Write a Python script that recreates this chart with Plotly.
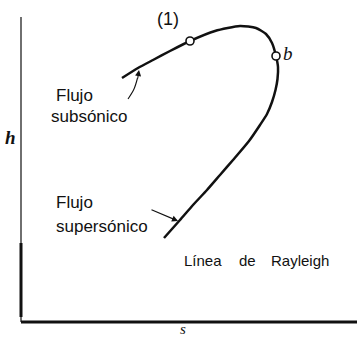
import plotly.graph_objects as go

# Rayleigh line in the h-s plane (arbitrary units, no ticks)
s_curve = [122, 138, 153, 170, 190, 215, 240, 256, 266, 272, 276, 278, 277.5, 275.5, 272, 267, 260, 249, 233, 220, 207, 193, 180, 164]
h_curve = [260, 270, 278, 287, 297, 307, 312, 310, 304, 295, 282, 271, 259, 248, 236, 224, 213, 197, 178, 163, 148, 133, 118, 100]

# marked states: (1) and b
s_pts = [190, 276]
h_pts = [297, 282]

# axis frame
s_axis = [21, 357]
h_axis_top = 321
h_axis_bottom = 16
h_axis_thick = 95

BLACK = "#111111"
SANS = "Liberation Sans, Arial, sans-serif"
SERIF = "Liberation Serif, Times New Roman, serif"

fig = go.Figure()

# vertical (h) axis: thin upper part, heavier lower part
fig.add_trace(go.Scatter(x=[s_axis[0], s_axis[0]], y=[h_axis_top, h_axis_thick],
                         mode="lines", line=dict(color="#333333", width=1.4),
                         hoverinfo="skip"))
fig.add_trace(go.Scatter(x=[s_axis[0], s_axis[0]], y=[h_axis_thick, 21],
                         mode="lines", line=dict(color=BLACK, width=3),
                         hoverinfo="skip"))
fig.add_trace(go.Scatter(x=[s_axis[0], s_axis[0]], y=[21, h_axis_bottom],
                         mode="lines", line=dict(color="#333333", width=1.4),
                         hoverinfo="skip"))
# horizontal (s) axis
fig.add_trace(go.Scatter(x=s_axis, y=[h_axis_bottom, h_axis_bottom],
                         mode="lines", line=dict(color=BLACK, width=3.2),
                         hoverinfo="skip"))

# Rayleigh curve
fig.add_trace(go.Scatter(x=s_curve, y=h_curve, mode="lines",
                         line=dict(color=BLACK, width=2.5, shape="spline", smoothing=0.6),
                         hoverinfo="skip"))

# curved pointer for the subsonic branch
fig.add_trace(go.Scatter(x=[128, 134, 137.5], y=[239, 249, 260], mode="lines",
                         line=dict(color=BLACK, width=1.1, shape="spline"),
                         hoverinfo="skip"))

# state markers
fig.add_trace(go.Scatter(x=s_pts, y=h_pts, mode="markers",
                         marker=dict(size=8, color="white",
                                     line=dict(color=BLACK, width=1.6)),
                         hoverinfo="skip"))

annotations = [
    dict(x=139, y=268, ax=137.5, ay=258, xref="x", yref="y", axref="x", ayref="y",
         showarrow=True, arrowhead=2, arrowsize=1.1, arrowwidth=1.1,
         arrowcolor=BLACK, text=""),
    dict(x=178, y=117, ax=150, ay=129, xref="x", yref="y", axref="x", ayref="y",
         showarrow=True, arrowhead=2, arrowsize=1.1, arrowwidth=1.1,
         arrowcolor=BLACK, text=""),
    dict(x=168, y=319, text="(1)", font=dict(family=SANS, size=18, color=BLACK)),
    dict(x=288, y=285, text="<i>b</i>", font=dict(family=SERIF, size=19, color=BLACK)),
    dict(x=10, y=201, text="<b><i>h</i></b>", font=dict(family=SERIF, size=19, color=BLACK)),
    dict(x=183, y=0, yanchor="bottom", borderpad=0, text="<i>s</i>",
         font=dict(family=SERIF, size=15, color=BLACK)),
    dict(x=54, y=243, text="Flujo", xanchor="left", font=dict(family=SANS, size=17, color=BLACK)),
    dict(x=49, y=222, text="subsónico", xanchor="left", font=dict(family=SANS, size=17, color=BLACK)),
    dict(x=54, y=136, text="Flujo", xanchor="left", font=dict(family=SANS, size=17, color=BLACK)),
    dict(x=54, y=112, text="supersónico", xanchor="left", font=dict(family=SANS, size=17, color=BLACK)),
    dict(x=182, y=78, text="Línea", xanchor="left", font=dict(family=SANS, size=15, color=BLACK)),
    dict(x=237, y=78, text="de", xanchor="left", font=dict(family=SANS, size=15, color=BLACK)),
    dict(x=269, y=78, text="Rayleigh", xanchor="left", font=dict(family=SANS, size=15, color=BLACK)),
]
for a in annotations:
    a.setdefault("xref", "x")
    a.setdefault("yref", "y")
    a.setdefault("showarrow", False)

fig.update_layout(
    width=357, height=338,
    margin=dict(l=0, r=0, t=0, b=0),
    paper_bgcolor="white", plot_bgcolor="white",
    showlegend=False,
    annotations=annotations,
    xaxis=dict(range=[0, 357], visible=False, fixedrange=True),
    yaxis=dict(range=[0, 338], visible=False, fixedrange=True),
)

fig.write_html("out.html", config={"displayModeBar": False})
